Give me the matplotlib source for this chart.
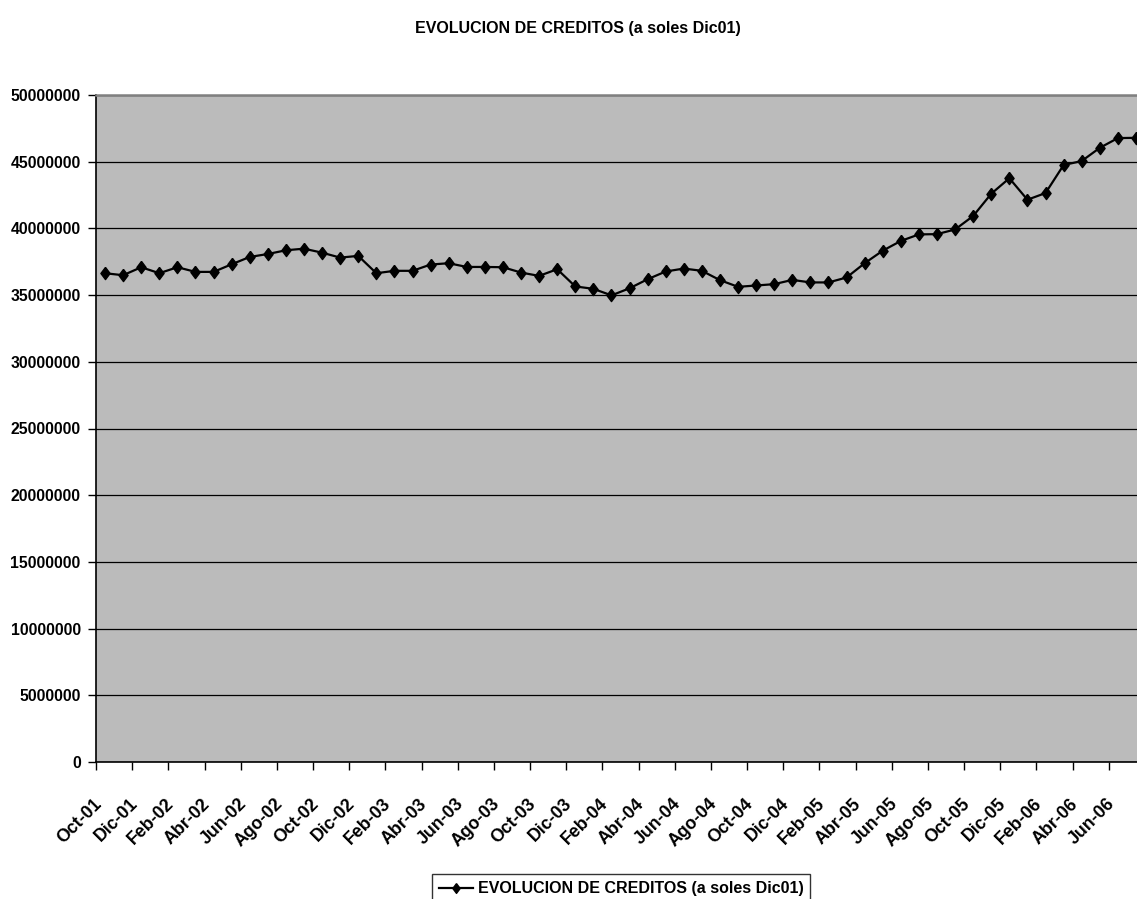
import matplotlib
matplotlib.use("Agg")
import matplotlib.pyplot as plt
from matplotlib.ticker import FixedLocator, NullFormatter

# Monthly categories, Oct-2001 .. Jul-2006
months = ["Oct-01", "Nov-01", "Dic-01", "Ene-02", "Feb-02", "Mar-02", "Abr-02", "May-02",
          "Jun-02", "Jul-02", "Ago-02", "Sep-02", "Oct-02", "Nov-02", "Dic-02", "Ene-03",
          "Feb-03", "Mar-03", "Abr-03", "May-03", "Jun-03", "Jul-03", "Ago-03", "Sep-03",
          "Oct-03", "Nov-03", "Dic-03", "Ene-04", "Feb-04", "Mar-04", "Abr-04", "May-04",
          "Jun-04", "Jul-04", "Ago-04", "Sep-04", "Oct-04", "Nov-04", "Dic-04", "Ene-05",
          "Feb-05", "Mar-05", "Abr-05", "May-05", "Jun-05", "Jul-05", "Ago-05", "Sep-05",
          "Oct-05", "Nov-05", "Dic-05", "Ene-06", "Feb-06", "Mar-06", "Abr-06", "May-06",
          "Jun-06", "Jul-06"]

# Credits in soles of Dec-2001
creditos = [36640000, 36490000, 37090000, 36640000, 37090000, 36740000, 36740000, 37310000,
            37860000, 38080000, 38360000, 38480000, 38180000, 37810000, 37940000, 36640000,
            36820000, 36820000, 37290000, 37390000, 37110000, 37110000, 37090000, 36690000,
            36440000, 36940000, 35650000, 35470000, 34980000, 35510000, 36190000, 36770000,
            36990000, 36820000, 36120000, 35620000, 35720000, 35820000, 36140000, 35950000,
            35950000, 36320000, 37390000, 38330000, 39060000, 39550000, 39570000, 39920000,
            40930000, 42600000, 43760000, 42150000, 42650000, 44750000, 45050000, 46040000,
            46770000, 46790000]

y_ticks = [0, 5000000, 10000000, 15000000, 20000000, 25000000,
           30000000, 35000000, 40000000, 45000000, 50000000]
y_tick_labels = [str(v) for v in y_ticks]

title = "EVOLUCION DE CREDITOS (a soles Dic01)"

FONT = "Liberation Sans"
W, H = 1137, 899
fig = plt.figure(figsize=(W / 100, H / 100), dpi=100)
fig.patch.set_facecolor("white")

# plot area (runs slightly past the right edge of the canvas)
left_px, right_px, top_px, bottom_px = 96, 1145, 95, 762
ax = fig.add_axes([left_px / W, 1 - bottom_px / H,
                   (right_px - left_px) / W, (bottom_px - top_px) / H])
ax.set_facecolor("#BBBBBB")

n = len(creditos)
x = list(range(n))

diamond = [(0, 1), (0.75, 0), (0, -1), (-0.75, 0), (0, 1)]
ax.plot(x, creditos, color="black", lw=1.6, marker=diamond, markersize=8.8,
        markerfacecolor="black", markeredgecolor="black", zorder=3,
        label=title)

ax.set_xlim(-0.5, n - 0.5)
ax.set_ylim(0, 50000000)

# y axis
ax.set_yticks(y_ticks)
ax.set_yticklabels(y_tick_labels, fontfamily=FONT, fontweight="bold", fontsize=11.3)
ax.tick_params(axis="y", direction="out", length=6, width=1, pad=5, color="black")
ax.yaxis.grid(True, color="black", lw=0.9)
ax.set_axisbelow(True)

# x axis: tick marks on category boundaries, labels at every second category
boundaries = [i - 0.5 for i in range(0, n + 1, 2)]
ax.xaxis.set_major_locator(FixedLocator(boundaries))
ax.xaxis.set_major_formatter(NullFormatter())
ax.tick_params(axis="x", which="major", direction="out", length=6, width=1, color="black")
label_pos = list(range(0, n, 2))
ax.xaxis.set_minor_locator(FixedLocator(label_pos))
ax.set_xticklabels([months[i] for i in label_pos], minor=True,
                   fontfamily=FONT, fontweight="bold", fontsize=12.8,
                   rotation=45, ha="right", va="top")
ax.tick_params(axis="x", which="minor", length=0, pad=24)

for side in ("left", "bottom"):
    ax.spines[side].set_color("black")
    ax.spines[side].set_linewidth(1.2)
ax.spines["top"].set_color("#808080")
ax.spines["top"].set_linewidth(1.8)
ax.spines["right"].set_color("#808080")

fig.text(578 / W, 1 - 28 / H, title, ha="center", va="center",
         fontfamily=FONT, fontweight="bold", fontsize=11.5)

leg = fig.legend(loc="upper left", bbox_to_anchor=(432 / W, 1 - 870 / H),
                 frameon=True, fancybox=False, borderaxespad=0,
                 prop={"family": FONT, "weight": "bold", "size": 11.5},
                 handlelength=2.1, handletextpad=0.3, borderpad=0.45,
                 markerscale=0.8)
leg.get_frame().set_edgecolor("black")
leg.get_frame().set_linewidth(1.0)
# push the box a few pixels lower so its bottom edge runs off the canvas
leg.set_bbox_to_anchor((432 / W, 1 - 874 / H), transform=fig.transFigure)

fig.savefig("out.png", dpi=100, facecolor="white")
